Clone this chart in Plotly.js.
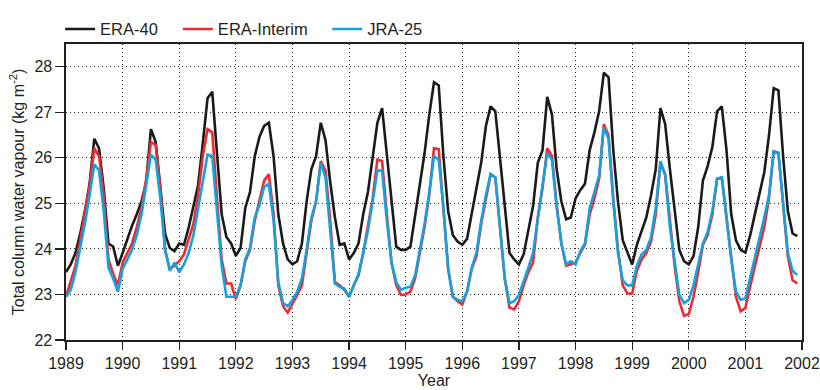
<!DOCTYPE html>
<html>
<head>
<meta charset="utf-8">
<script src="https://cdn.plot.ly/plotly-3.0.1.min.js"></script>
<style>html,body{margin:0;padding:0;background:#fff;}#chart{width:820px;height:390px;}</style>
</head>
<body>
<div id="chart"></div>
<script>
// Monthly values, Jan 1989 .. Dec 2001
const startYear = 1989;
const yearTicks = [1989,1990,1991,1992,1993,1994,1995,1996,1997,1998,1999,2000,2001,2002];
const yTicks = [22,23,24,25,26,27,28];

const era40 = [
 23.49,23.66,23.91,24.33,24.83,25.43,26.42,26.21,25.33,24.12,24.05,23.63,
 23.91,24.22,24.51,24.76,25.04,25.47,26.63,26.35,25.33,24.33,24.02,23.95,
 24.12,24.09,24.47,24.90,25.40,26.32,27.31,27.45,26.04,24.76,24.26,24.12,
 23.85,24.02,24.90,25.25,26.03,26.46,26.70,26.77,26.03,24.76,24.12,23.77,
 23.66,23.73,24.12,25.04,25.75,26.03,26.77,26.39,25.47,24.69,24.09,24.12,
 23.77,23.91,24.12,24.76,25.25,26.03,26.77,27.09,26.03,24.97,24.05,23.98,
 23.98,24.05,24.76,25.40,26.10,26.95,27.66,27.59,26.03,24.83,24.30,24.16,
 24.09,24.22,24.76,25.33,25.89,26.70,27.13,27.02,25.96,24.97,23.91,23.77,
 23.66,23.88,24.41,24.94,25.89,26.17,27.34,26.95,25.75,25.04,24.65,24.69,
 25.11,25.29,25.43,26.17,26.56,27.02,27.87,27.77,26.17,25.04,24.19,23.91,
 23.66,24.09,24.41,24.69,25.18,25.75,27.09,26.74,25.75,24.83,23.98,23.73,
 23.66,23.84,24.48,25.50,25.82,26.24,27.02,27.13,26.17,24.76,24.19,23.98,
 23.92,24.29,24.79,25.22,25.68,26.49,27.53,27.48,26.03,24.83,24.34,24.28
];
const eraInterim = [
 22.95,23.27,23.63,24.19,24.76,25.40,26.21,26.04,25.18,23.77,23.45,23.20,
 23.70,23.91,24.12,24.48,24.90,25.54,26.35,26.28,25.33,23.98,23.56,23.63,
 23.73,23.88,24.19,24.55,25.18,26.04,26.63,26.56,25.11,23.77,23.24,23.24,
 22.90,23.20,23.73,23.98,24.62,25.04,25.50,25.64,24.76,23.20,22.74,22.60,
 22.78,22.99,23.20,23.91,24.62,25.04,25.93,25.72,24.62,23.27,23.20,23.10,
 22.95,23.20,23.42,23.91,24.48,25.11,25.96,25.93,24.76,23.70,23.20,22.99,
 23.00,23.06,23.35,23.91,24.48,25.18,26.21,26.19,24.97,23.56,22.95,22.85,
 22.78,23.06,23.56,23.84,24.55,25.11,25.64,25.57,24.48,23.35,22.71,22.67,
 22.85,23.20,23.49,23.70,24.69,25.33,26.21,26.04,24.97,24.12,23.63,23.66,
 23.70,23.91,24.09,24.76,25.11,25.54,26.74,26.49,25.11,23.98,23.20,23.02,
 23.02,23.52,23.77,23.91,24.16,24.76,25.89,25.64,24.55,23.63,22.85,22.53,
 22.57,22.95,23.49,24.09,24.30,24.76,25.54,25.57,24.69,23.84,22.95,22.63,
 22.70,23.17,23.59,24.02,24.48,25.11,26.14,26.11,24.90,23.84,23.31,23.24
];
const jra25 = [
 22.95,23.10,23.49,23.98,24.55,25.18,25.86,25.72,24.83,23.59,23.35,23.06,
 23.56,23.77,23.98,24.30,24.76,25.40,26.07,25.96,25.11,23.98,23.52,23.70,
 23.49,23.66,23.91,24.30,24.90,25.54,26.07,26.04,24.76,23.63,22.95,22.95,
 22.95,23.20,23.77,24.02,24.69,24.97,25.36,25.43,24.62,23.27,22.81,22.74,
 22.88,23.06,23.35,23.98,24.69,25.04,25.89,25.57,24.48,23.24,23.17,23.13,
 22.95,23.20,23.45,23.91,24.41,25.04,25.72,25.72,24.62,23.70,23.27,23.10,
 23.15,23.17,23.42,23.98,24.55,25.25,26.04,25.96,24.90,23.56,22.95,22.88,
 22.85,23.06,23.59,23.91,24.62,25.18,25.64,25.57,24.48,23.35,22.81,22.85,
 22.99,23.27,23.59,23.91,24.69,25.40,26.10,25.96,24.90,24.12,23.66,23.73,
 23.66,23.95,24.12,24.90,25.25,25.61,26.67,26.42,25.04,23.91,23.31,23.20,
 23.20,23.63,23.88,23.98,24.26,24.90,25.93,25.61,24.48,23.70,22.99,22.81,
 22.88,23.20,23.63,24.12,24.37,24.83,25.54,25.57,24.69,23.77,23.06,22.88,
 22.92,23.35,23.84,24.23,24.69,25.18,26.14,26.11,24.97,23.91,23.52,23.43
];

const months = era40.map((_, i) => startYear + i / 12);

const font = 'Liberation Sans, Arial, sans-serif';
const ink = '#231f20';

const traces = [
  {x: months, y: era40, name: 'ERA-40', mode: 'lines', legend: 'legend',
   line: {color: '#1a1a1a', width: 2.6}},
  {x: months, y: eraInterim, name: 'ERA-Interim', mode: 'lines', legend: 'legend2',
   line: {color: '#ec2a33', width: 2.6}},
  {x: months, y: jra25, name: 'JRA-25', mode: 'lines', legend: 'legend3',
   line: {color: '#14a2dc', width: 2.6}}
];

function leg(x) {
  return {x: x, xanchor: 'left', y: 1.05, yanchor: 'middle', orientation: 'h',
          bgcolor: 'rgba(0,0,0,0)', borderwidth: 0, font: {family: font, size: 16.5, color: ink},
          itemwidth: 30, tracegroupgap: 0};
}

const layout = {
  width: 820, height: 390,
  margin: {l: 66, r: 18, t: 33, b: 50, pad: 0},
  paper_bgcolor: '#fff', plot_bgcolor: '#fff',
  font: {family: font, size: 16, color: ink},
  showlegend: true,
  legend: leg(-0.008),
  legend2: leg(0.152),
  legend3: leg(0.355),
  xaxis: {
    range: [1989, 2002], tickvals: yearTicks, ticktext: yearTicks.map(String),
    ticks: 'outside', ticklen: 8, tickwidth: 1.2, tickcolor: ink,
    showline: true, linecolor: ink, linewidth: 1.6, mirror: true,
    showgrid: true, gridcolor: '#222', griddash: '1px,3px', gridwidth: 1,
    zeroline: false, tickfont: {family: font, size: 16, color: ink},
    title: {text: 'Year', font: {family: font, size: 16, color: ink}, standoff: 3}
  },
  yaxis: {
    range: [22, 28.5], tickvals: yTicks,
    ticks: 'outside', ticklen: 9, tickwidth: 1.2, tickcolor: ink,
    showline: true, linecolor: ink, linewidth: 1.6, mirror: true,
    showgrid: true, gridcolor: '#222', griddash: '1px,3px', gridwidth: 1,
    zeroline: false, tickfont: {family: font, size: 16, color: ink},
    title: {text: 'Total column water vapour (kg m<sup>-2</sup>)', font: {family: font, size: 16, color: ink}, standoff: 6}
  }
};

Plotly.newPlot('chart', traces, layout, {staticPlot: true, displayModeBar: false});
</script>
</body>
</html>
